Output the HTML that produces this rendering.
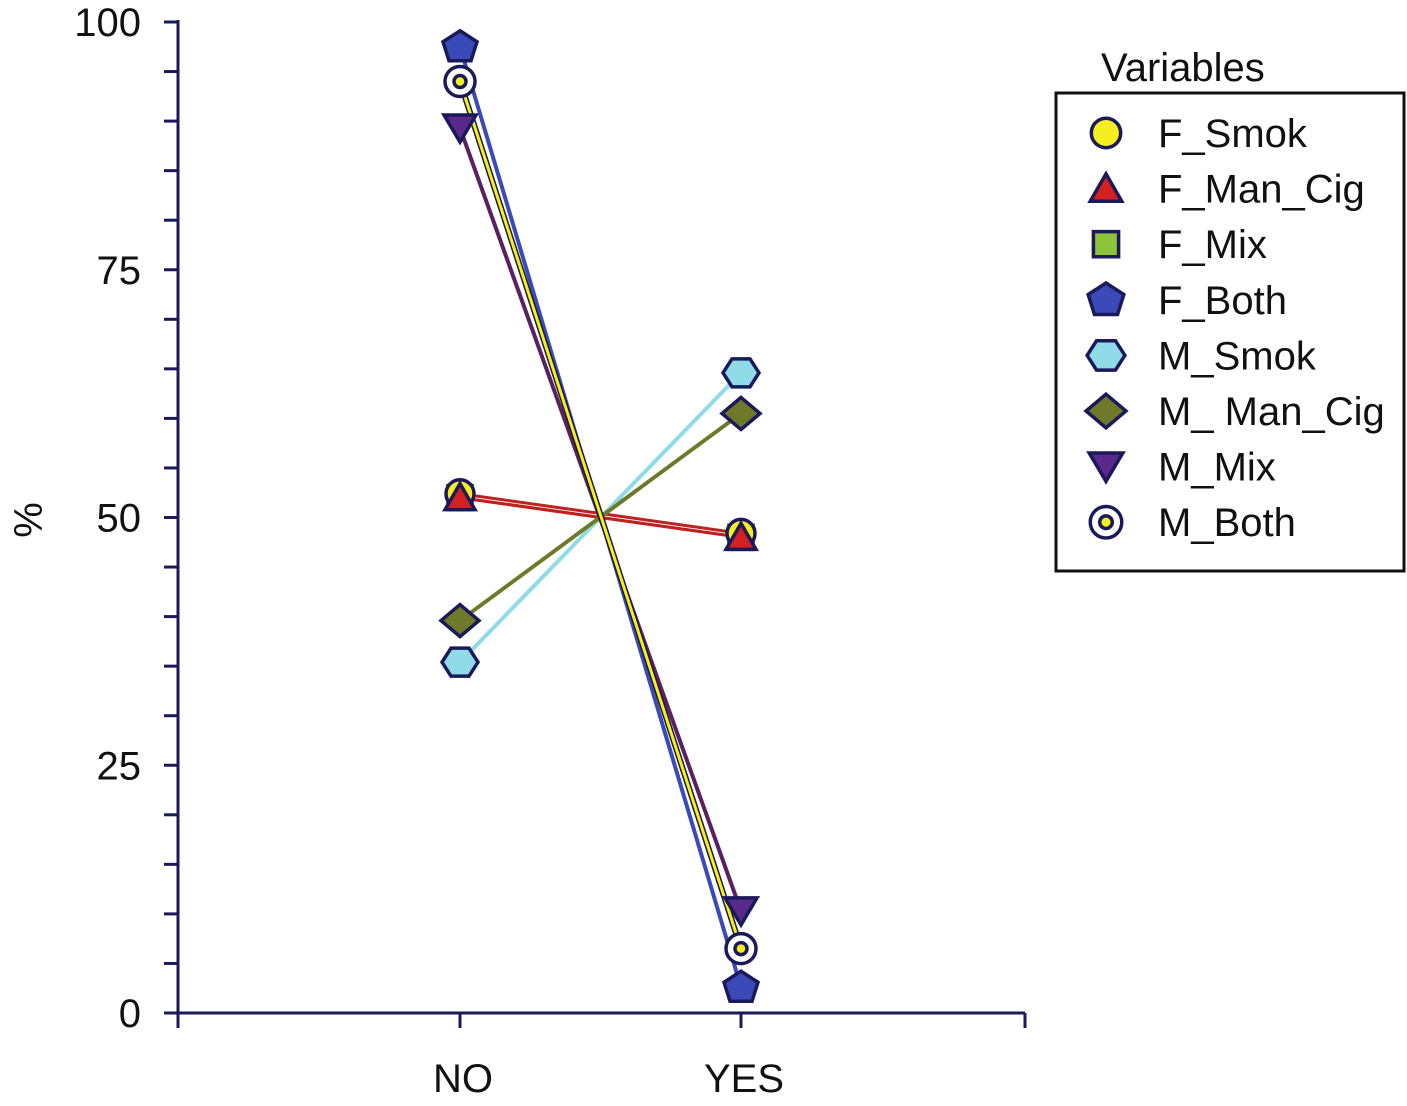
<!DOCTYPE html>
<html><head><meta charset="utf-8"><style>
body{margin:0;background:#fff;}
svg text{font-family:"Liberation Sans",sans-serif;fill:#111;}
</style></head><body>
<svg id="c" width="1407" height="1101"></svg>
<script>
const categories=["NO","YES"];
const seriesNames=["F_Smok","F_Man_Cig","F_Mix","F_Both","M_Smok","M_ Man_Cig","M_Mix","M_Both"];
const fSmok=[52.4,48.4];
const fManCig=[52,48];
const fMix=[52,48];
const fBoth=[97.5,2.6];
const mSmok=[35.4,64.6];
const mManCig=[39.6,60.5];
const mMix=[89.3,10.3];
const mBoth=[94,6.5];
const yTicks=[0,25,50,75,100];

const NS="http://www.w3.org/2000/svg";
const svg=document.getElementById('c');
function el(t,a,p){const e=document.createElementNS(NS,t);for(const k in a)e.setAttribute(k,a[k]);(p||svg).appendChild(e);return e;}
const y=v=>1013-v*9.91;
const xPos=[460,741];
const x=i=>xPos[i];

let ax=el('line',{x1:178,y1:20,x2:178,y2:1013,stroke:'#1a1a5a','stroke-width':3});

let bx=el('line',{x1:176,y1:1013,x2:1025,y2:1013,stroke:'#1a1a5a','stroke-width':3});

for(let v=0;v<=100;v+=5){el('line',{x1:164,y1:y(v),x2:178,y2:y(v),stroke:'#1a1a5a','stroke-width':3});}
yTicks.forEach(v=>{const t=el('text',{x:141,y:y(v)+14,'font-size':40,'text-anchor':'end'});t.textContent=v;
});
[178,460,741,1025].forEach(px=>el('line',{x1:px,y1:1013,x2:px,y2:1028,stroke:'#1a1a5a','stroke-width':3}));
categories.forEach((c,i)=>{const t=el('text',{x:x(i)+3,y:1092,'font-size':40,'text-anchor':'middle'});t.textContent=c;
});
const yt=el('text',{x:0,y:0,'font-size':40,'text-anchor':'middle',transform:'translate(42,520) rotate(-90)'});yt.textContent='%';


function marker(kind,cx,cy,g,s){
  s=s||1;const st={stroke:'#1a1a5a','stroke-width':3.5};
  const P=(pts,fill)=>el('polygon',Object.assign({points:pts.map(p=>(cx+p[0]*s)+','+(cy+p[1]*s)).join(' '),fill},st),g);
  if(kind==='circle')el('circle',Object.assign({cx,cy,r:14*s,fill:'#f5ee20'},st),g);
  if(kind==='tri')P([[0,-14],[15,12],[-15,12]],'#d42020');
  if(kind==='square')P([[-12,-12],[12,-12],[12,12],[-12,12]],'#8cc43a');
  if(kind==='pent')P([[0,-16],[17,-5],[11,14],[-11,14],[-17,-5]],'#3a4ab8');
  if(kind==='hex')P([[-9,-14],[9,-14],[18,0],[9,14],[-9,14],[-18,0]],'#8fdce8');
  if(kind==='diam')P([[0,-16],[19,0],[0,16],[-19,0]],'#6e7a2a');
  if(kind==='dtri')P([[-16,-13],[16,-13],[0,14]],'#5a2a8a');
  if(kind==='target'){el('circle',{cx,cy,r:15*s,fill:'#fff',stroke:'#1a1a5a','stroke-width':3.5},g);
    el('circle',{cx,cy,r:6*s,fill:'#f5ee20',stroke:'#1a1a5a','stroke-width':3.5},g);}
}
const series=[
 {n:'f-mix',d:fMix,c:'#c02020',m:'square',w:3},
 {n:'f-smok',d:fSmok,c:'#c02020',m:'circle',w:3},
 {n:'f-man-cig',d:fManCig,c:'#c02020',m:'tri',w:3},
 {n:'m-smok',d:mSmok,c:'#8fdce8',m:'hex',w:4},
 {n:'m-man-cig',d:mManCig,c:'#6e7a2a',m:'diam',w:4},
 {n:'m-mix',d:mMix,c:'#5a2060',m:'dtri',w:4},
 {n:'f-both',d:fBoth,c:'#3a4ab8',m:'pent',w:4},
 {n:'m-both',d:mBoth,c:'#f5ee20',m:'target',w:3,outline:true},
];
series.forEach(s=>{
  const g=el('g',{});
  if(s.outline)el('line',{x1:x(0),y1:y(s.d[0]),x2:x(1),y2:y(s.d[1]),stroke:'#1a1a3a','stroke-width':6},g);
  el('line',{x1:x(0),y1:y(s.d[0]),x2:x(1),y2:y(s.d[1]),stroke:s.c,'stroke-width':s.w},g);
});
series.forEach(s=>{
  s.d.forEach((v,i)=>{const g=el('g',{});
    
    marker(s.m,x(i),y(v),g);});
});

const lg=el('g',{});
const lt=el('text',{x:1101,y:81,'font-size':40},lg);lt.textContent='Variables';
el('rect',{x:1056,y:93,width:348,height:478,fill:'#fff',stroke:'#111','stroke-width':3},lg);
const lm=['circle','tri','square','pent','hex','diam','dtri','target'];
seriesNames.forEach((n,i)=>{
  const cy=133+i*55.6;const g=el('g',{},lg);
  
  marker(lm[i],1106,cy,g,1.05);
  const t=el('text',{x:1158,y:cy+14,'font-size':40},g);t.textContent=n;
});
</script>
</body></html>
